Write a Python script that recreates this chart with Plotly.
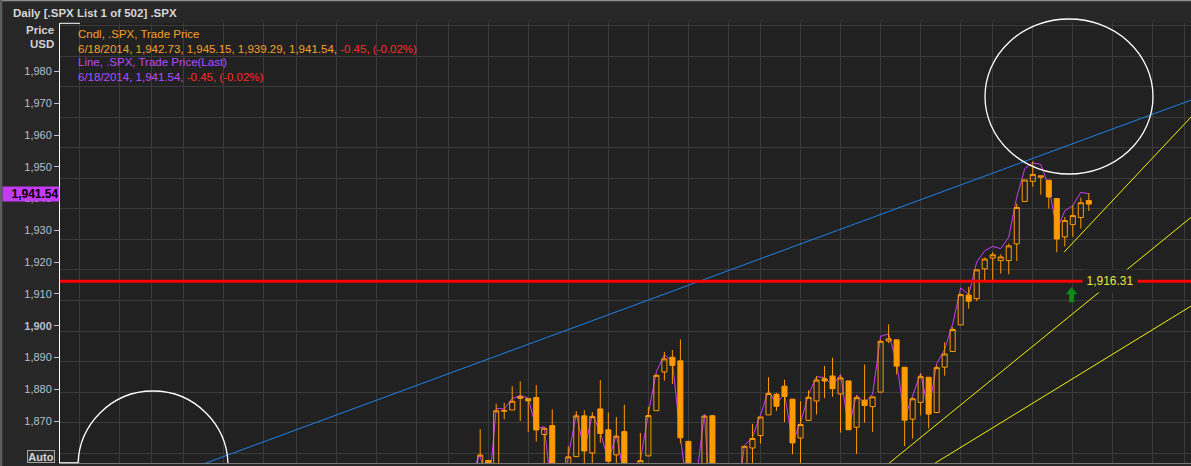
import pandas as pd
import plotly.graph_objects as go

# ---------------- data ----------------
HOLIDAYS = ["2013-12-25", "2014-01-01", "2014-01-20", "2014-02-17",
            "2014-04-18", "2014-05-26", "2014-07-04"]
calendar = pd.bdate_range("2013-11-25", "2014-07-18", freq="C", holidays=HOLIDAYS)

FIRST_DAY, LAST_DAY = "2014-02-27", "2014-06-18"

open_ = [1844.90, 1855.12, 1857.68, 1849.23, 1874.05, 1874.18, 1878.52, 1877.86, 1878.26, 1866.15,
         1869.06, 1845.07, 1842.81, 1858.92, 1872.25, 1860.09, 1874.53, 1867.67, 1859.48, 1867.09,
         1852.11, 1850.07, 1859.16, 1873.96, 1886.61, 1891.43, 1890.25, 1863.92, 1845.48, 1852.64,
         1872.28, 1830.65, 1818.18, 1831.45, 1846.01, 1861.73, 1865.79, 1872.57, 1879.32, 1881.97,
         1877.72, 1865.00, 1870.78, 1877.10, 1884.39, 1885.30, 1879.45, 1883.69, 1868.53, 1877.39,
         1875.27, 1880.03, 1896.75, 1897.13, 1888.16, 1871.19, 1876.66, 1884.88, 1873.34, 1888.19,
         1893.32, 1902.01, 1911.77, 1910.60, 1920.33, 1923.87, 1923.07, 1923.06, 1928.52, 1942.41,
         1948.97, 1950.34, 1949.37, 1943.35, 1930.80, 1934.84, 1937.15, 1942.73]
high = [1854.53, 1867.92, 1857.68, 1876.23, 1876.53, 1881.94, 1883.57, 1877.87, 1882.35, 1868.38,
        1874.40, 1852.44, 1862.30, 1873.76, 1874.14, 1873.49, 1883.97, 1873.34, 1871.87, 1875.92,
        1855.55, 1866.63, 1875.18, 1885.84, 1893.17, 1893.80, 1897.28, 1864.04, 1854.95, 1872.43,
        1872.53, 1835.07, 1834.19, 1844.02, 1862.31, 1869.63, 1871.89, 1884.89, 1879.75, 1884.06,
        1877.72, 1877.01, 1880.60, 1885.20, 1888.59, 1891.33, 1885.51, 1883.69, 1878.83, 1889.07,
        1878.57, 1897.13, 1902.17, 1897.13, 1888.16, 1878.28, 1886.00, 1884.88, 1888.80, 1896.33,
        1901.26, 1912.28, 1914.46, 1920.03, 1924.03, 1925.88, 1925.07, 1928.63, 1941.74, 1949.44,
        1955.55, 1950.86, 1949.37, 1943.35, 1937.30, 1941.15, 1943.69, 1945.15]
low = [1841.13, 1847.67, 1834.44, 1849.23, 1871.11, 1874.18, 1870.56, 1867.04, 1863.88, 1854.38,
       1841.86, 1839.57, 1842.81, 1858.92, 1850.35, 1854.63, 1863.46, 1849.69, 1855.96, 1852.56,
       1842.11, 1850.07, 1859.16, 1873.96, 1883.79, 1882.65, 1863.26, 1841.48, 1837.49, 1852.38,
       1830.87, 1814.36, 1815.80, 1816.29, 1846.01, 1856.72, 1863.18, 1872.57, 1873.91, 1870.24,
       1859.70, 1850.61, 1870.78, 1872.69, 1878.04, 1878.50, 1866.77, 1867.72, 1859.79, 1870.05,
       1867.02, 1880.03, 1896.06, 1885.77, 1862.36, 1864.82, 1872.42, 1868.14, 1873.34, 1885.39,
       1893.32, 1902.01, 1907.30, 1909.82, 1916.64, 1915.98, 1918.79, 1918.60, 1922.93, 1942.41,
       1947.16, 1944.64, 1940.08, 1925.78, 1927.69, 1930.91, 1933.55, 1939.29]
close = [1854.29, 1859.45, 1845.73, 1873.91, 1873.81, 1877.03, 1878.04, 1877.17, 1867.63, 1868.20,
         1846.34, 1841.13, 1858.83, 1872.25, 1860.77, 1872.01, 1866.52, 1857.44, 1865.62, 1852.56,
         1849.04, 1857.62, 1872.34, 1885.52, 1890.90, 1888.77, 1865.09, 1845.04, 1851.96, 1872.18,
         1833.08, 1815.69, 1830.61, 1842.98, 1862.31, 1864.85, 1871.89, 1879.55, 1875.39, 1878.61,
         1863.40, 1869.43, 1878.33, 1883.95, 1883.68, 1881.14, 1884.66, 1867.72, 1878.21, 1875.63,
         1878.48, 1896.65, 1897.45, 1888.53, 1870.85, 1877.86, 1885.08, 1872.83, 1888.03, 1892.49,
         1900.53, 1911.91, 1909.78, 1920.03, 1923.57, 1924.97, 1924.24, 1927.88, 1940.46, 1949.44,
         1951.27, 1950.79, 1943.89, 1930.11, 1936.16, 1937.78, 1941.99, 1941.54]

LEFT_TICKS = list(range(1870, 1990, 10))
BOLD_TICK = 1900

HLINE_VALUE = 1916.31
HLINE_LABEL_POS = 78.65          # trading-day position of the label

# drawing-tool lines (trading-day position, price on the candle scale)
blue_x, blue_y = [-40, 95], [1851.25, 1981.6]
yellow1_x, yellow1_y = [72.9, 95], [1925.8, 1987.4]
yellow2_x, yellow2_y = [50, 95], [1854.5, 1950.5]
yellow3_x, yellow3_y = [50, 95], [1845.85, 1918.2]
circle_low = dict(x=[-50.22, -31.49], y=[1831.3, 1880.39])          # data coordinates
circle_top_px = dict(x=[985, 1153], y=[174, 19])                      # drawn on the chart canvas
ARROW_POS = 73.85

# ---------------- derived ----------------
days = calendar[(calendar >= FIRST_DAY) & (calendar <= LAST_DAY)]
assert len(days) == len(close)
origin = list(calendar).index(pd.Timestamp("2014-02-28"))
pos_all = [i - origin for i in range(len(calendar))]
day_pos = [list(calendar).index(d) - origin for d in days]
wk = [(d.isocalendar()[0], d.isocalendar()[1]) for d in calendar]
week_starts = [pos_all[i] for i in range(len(calendar)) if i == 0 or wk[i] != wk[i - 1]]

X_RANGE = [-52.47, 88.76]
Y_RANGE = [1856.78, 1995.28]      # left price axis (line)
Y2_RANGE = [1856.83, 2000.80]     # candle scale

ORANGE = "#ff9a00"
PURPLE = "#cc3cf8"
RED_TXT = "#ff2b2b"
FONT = "Liberation Sans"


def px(xp):
    return (xp - 60) / 1131


def py(yp):
    return (463 - yp) / 440


fig = go.Figure()

fig.add_trace(go.Candlestick(
    x=day_pos, open=open_, high=high, low=low, close=close, yaxis="y2",
    increasing=dict(line=dict(color=ORANGE, width=1), fillcolor="rgba(0,0,0,0)"),
    decreasing=dict(line=dict(color=ORANGE, width=1), fillcolor=ORANGE),
    whiskerwidth=0, hoverinfo="skip", showlegend=False))

for lx, ly, col in [(blue_x, blue_y, "#1f80ea"), (yellow1_x, yellow1_y, "#f2f20a"),
                    (yellow2_x, yellow2_y, "#f2f20a"), (yellow3_x, yellow3_y, "#f2f20a")]:
    fig.add_trace(go.Scatter(x=lx, y=ly, yaxis="y2", mode="lines",
                             line=dict(color=col, width=1), hoverinfo="skip", showlegend=False))

fig.add_trace(go.Scatter(x=day_pos, y=close, mode="lines", line=dict(color=PURPLE, width=1),
                         hoverinfo="skip", showlegend=False))

shapes = []
shapes.append(dict(type="circle", xref="x", yref="y2", x0=circle_low["x"][0],
                   x1=circle_low["x"][1], y0=circle_low["y"][0], y1=circle_low["y"][1],
                   line=dict(color="white", width=1.3)))
shapes.append(dict(type="circle", xref="paper", yref="paper",
                   x0=px(circle_top_px["x"][0]), x1=px(circle_top_px["x"][1]),
                   y0=py(circle_top_px["y"][0]), y1=py(circle_top_px["y"][1]),
                   line=dict(color="white", width=1.3)))
shapes.append(dict(type="line", xref="paper", yref="y2", x0=0, x1=1, y0=HLINE_VALUE,
                   y1=HLINE_VALUE, line=dict(color="#ff0000", width=3)))
shapes.append(dict(type="path", xref="x", yref="y2", xsizemode="pixel", ysizemode="pixel",
                   xanchor=ARROW_POS, yanchor=HLINE_VALUE,
                   path="M 0,-6 L 6,-13 L 2.5,-13 L 2.5,-21 L -2.5,-21 L -2.5,-13 L -6,-13 Z",
                   fillcolor="#0c8a1a", line=dict(width=0)))
# frame details
shapes += [
    dict(type="line", xref="paper", yref="paper", x0=px(60), x1=px(80), y0=py(23.3), y1=py(23.3),
         line=dict(color="white", width=1)),
    dict(type="line", xref="paper", yref="paper", x0=px(60), x1=px(78), y0=py(462.7), y1=py(462.7),
         line=dict(color="white", width=1)),
    dict(type="line", xref="paper", yref="paper", x0=px(0), x1=px(1191), y0=py(0.5), y1=py(0.5),
         line=dict(color="#8e8e8e", width=1.5)),
    dict(type="line", xref="paper", yref="paper", x0=px(1), x1=px(1), y0=py(0), y1=py(466),
         line=dict(color="#5c5c5c", width=2.5)),
]

last = len(close) - 1
chg = close[last] - close[last - 1]
pct = chg / close[last - 1] * 100
dstr = f"{days[last].month}/{days[last].day}/{days[last].year}"
red_part = f'<span style="color:{RED_TXT}">{chg:,.2f}, ({pct:.2f}%)</span>'

ann = []
ann.append(dict(text="<b>Daily [.SPX List 1 of 502] .SPX</b>", x=px(11), y=py(13),
                xanchor="left", yanchor="middle", font=dict(size=11.5, color="#d6d6d6")))
ann.append(dict(text="<b>Price</b>", x=px(55.5), y=py(30), xanchor="right", yanchor="middle",
                font=dict(size=11.5, color="#d2d2d2")))
ann.append(dict(text="<b>USD</b>", x=px(55.5), y=py(44.5), xanchor="right", yanchor="middle",
                font=dict(size=11.5, color="#d2d2d2")))
legend_lines = [
    (f'<span style="color:#f5a22a">Cndl, .SPX, Trade Price</span>', 34),
    (f'<span style="color:#f5a22a">{dstr}, {open_[last]:,.2f}, {high[last]:,.2f}, '
     f'{low[last]:,.2f}, {close[last]:,.2f}, </span>{red_part}', 48.5),
    (f'<span style="color:#b64cff">Line, .SPX, Trade Price(Last)</span>', 62.5),
    (f'<span style="color:#b64cff">{dstr}, {close[last]:,.2f}, </span>{red_part}', 76.5),
]
for txt, yy in legend_lines:
    ann.append(dict(text=txt, x=px(76), y=py(yy), xanchor="left", yanchor="middle",
                    font=dict(size=11.5)))
ann.append(dict(text=f"<b>{close[last]:,.2f}</b>", xref="paper", yref="y", x=px(59.5),
                y=close[last], xanchor="right", yanchor="middle", bgcolor="#c23cf2",
                font=dict(size=12, color="black"), width=55, height=13, align="right",
                borderpad=0.5))
ann.append(dict(text="<b>Auto</b>", x=px(41), y=py(456.3), xanchor="center", yanchor="middle",
                font=dict(size=11, color="#d4d4d4"), bgcolor="#2e2e2e", bordercolor="#a5a5a5",
                borderwidth=1, borderpad=0, width=26, height=11))
ann.append(dict(text=f"{HLINE_VALUE:,.2f}", xref="x", yref="y2", x=HLINE_LABEL_POS,
                y=HLINE_VALUE, xanchor="center", yanchor="middle", bgcolor="#222222",
                font=dict(size=12, color="#e6e640"), borderpad=4, width=46))
for a in ann:
    a.setdefault("xref", "paper")
    a.setdefault("yref", "paper")
    a["showarrow"] = False

ticktext = [f"<b>{v:,}</b>" if v == BOLD_TICK else f"{v:,}" for v in LEFT_TICKS]

fig.update_layout(
    width=1191, height=466, autosize=False,
    margin=dict(l=60, r=0, t=23, b=3, pad=0),
    paper_bgcolor="#272727", plot_bgcolor="#212121",
    font=dict(family=FONT, size=11, color="#c8c8c8"),
    showlegend=False, hovermode=False,
    boxgap=0.3, boxgroupgap=0.1,
    xaxis=dict(range=X_RANGE, tickmode="array", tickvals=week_starts, showticklabels=False,
               showgrid=True, gridcolor="#3b3b3b", gridwidth=1, zeroline=False, ticks="",
               showline=True, linecolor="#7a7a7a", linewidth=1, rangeslider=dict(visible=False),
               fixedrange=True),
    yaxis=dict(range=Y_RANGE, tickmode="array", tickvals=LEFT_TICKS, ticktext=ticktext,
               showgrid=False, zeroline=False, ticks="outside", ticklen=5, tickcolor="#bdbdbd",
               tickfont=dict(size=11, color="#b7bfcb", family=FONT), showline=True,
               linecolor="white", linewidth=1, side="left", fixedrange=True),
    yaxis2=dict(range=Y2_RANGE, overlaying="y", side="right", tick0=1860, dtick=10,
                showgrid=True, gridcolor="#3b3b3b", gridwidth=1, showticklabels=False,
                ticks="", zeroline=False, showline=False, fixedrange=True),
    shapes=shapes, annotations=ann,
)

fig.write_html("out.html", include_plotlyjs=True, config={"displayModeBar": False},
               post_script="document.body.style.margin='0px';document.body.style.overflow='hidden';")
